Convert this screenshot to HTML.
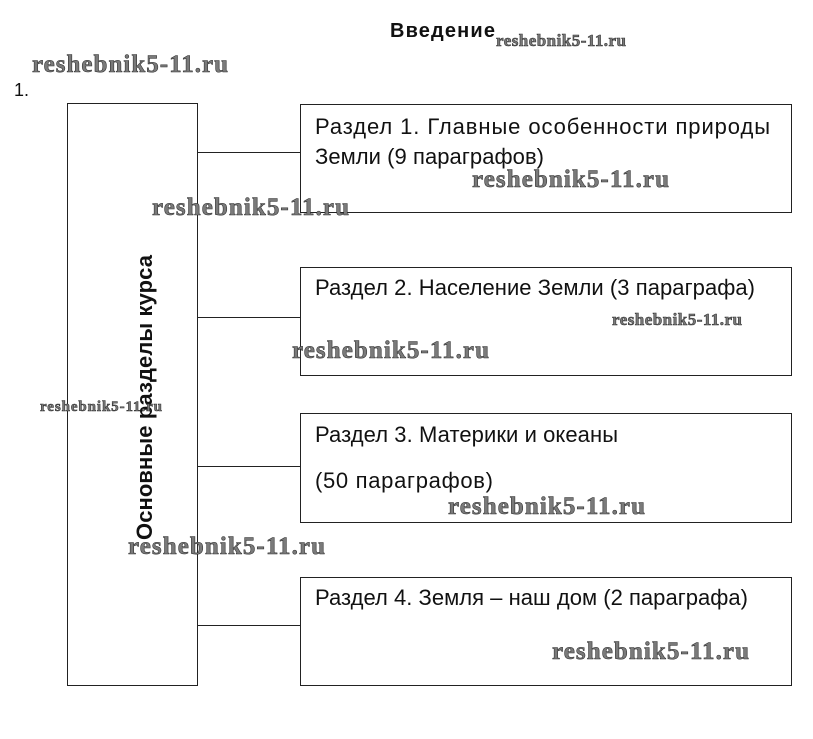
<!DOCTYPE html>
<html><head><meta charset="utf-8"><style>body{margin:0;background:#fff}svg{display:block}</style></head><body>
<svg width="813" height="739" xmlns="http://www.w3.org/2000/svg">
<defs><style>
.t{font-family:"Liberation Sans",Arial,sans-serif;font-size:22px;fill:#111}
.w{font-family:"Liberation Serif",serif;font-weight:bold;fill:#7a7a7a;stroke:#333;stroke-width:0.6}
</style></defs>
<g fill="none" stroke="#222" stroke-width="1">
<rect x="67.5" y="103.5" width="130" height="582"/>
<rect x="300.5" y="104.5" width="491" height="108"/>
<rect x="300.5" y="267.5" width="491" height="108"/>
<rect x="300.5" y="413.5" width="491" height="109"/>
<rect x="300.5" y="577.5" width="491" height="108"/>
<line x1="197" y1="152.5" x2="300" y2="152.5"/>
<line x1="197" y1="317.5" x2="300" y2="317.5"/>
<line x1="197" y1="466.5" x2="300" y2="466.5"/>
<line x1="197" y1="625.5" x2="300" y2="625.5"/>
</g>
<text x="390" y="37" class="t" style="font-weight:bold;font-size:20px" textLength="105">Введение</text>
<text x="14" y="96" class="t" style="font-size:18px">1.</text>
<text x="315" y="134" class="t" textLength="455">Раздел 1. Главные особенности природы</text>
<text x="315" y="164" class="t" textLength="229">Земли (9 параграфов)</text>
<text x="315" y="295" class="t" textLength="440">Раздел 2. Население Земли (3 параграфа)</text>
<text x="315" y="442" class="t" textLength="303">Раздел 3. Материки и океаны</text>
<text x="315" y="488" class="t" textLength="178">(50 параграфов)</text>
<text x="315" y="605" class="t" textLength="433">Раздел 4. Земля – наш дом (2 параграфа)</text>
<text transform="translate(152,540) rotate(-90)" class="t" style="font-weight:bold" textLength="285">Основные разделы курса</text>
<g class="w">
<text x="32" y="72" font-size="25" textLength="196">reshebnik5-11.ru</text>
<text x="496" y="46" font-size="17" textLength="130">reshebnik5-11.ru</text>
<text x="472" y="187" font-size="25" textLength="197">reshebnik5-11.ru</text>
<text x="152" y="215" font-size="25" textLength="197">reshebnik5-11.ru</text>
<text x="612" y="325" font-size="17" textLength="130">reshebnik5-11.ru</text>
<text x="292" y="358" font-size="25" textLength="197">reshebnik5-11.ru</text>
<text x="40" y="411" font-size="15" textLength="122">reshebnik5-11.ru</text>
<text x="448" y="514" font-size="25" textLength="197">reshebnik5-11.ru</text>
<text x="128" y="554" font-size="25" textLength="197">reshebnik5-11.ru</text>
<text x="552" y="659" font-size="25" textLength="197">reshebnik5-11.ru</text>
</g>
</svg>
</body></html>
